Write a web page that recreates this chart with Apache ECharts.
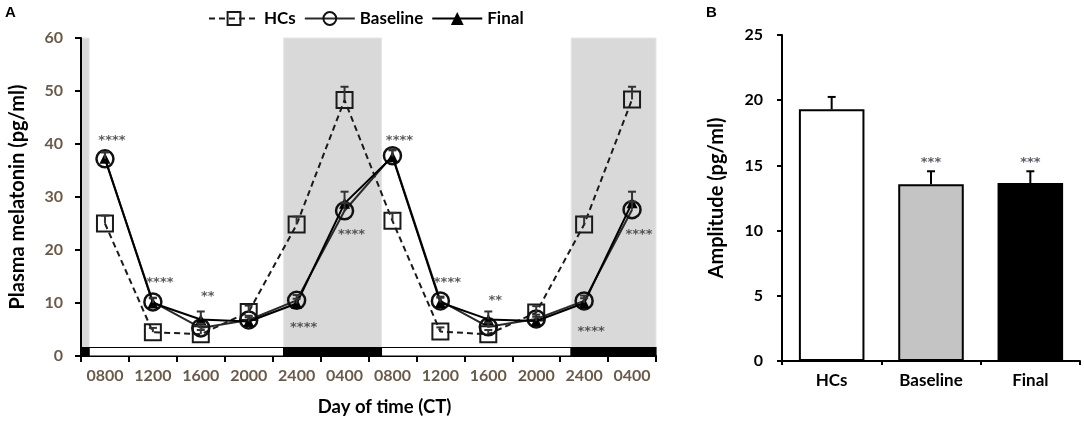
<!DOCTYPE html>
<html>
<head>
<meta charset="utf-8">
<script src="https://cdn.jsdelivr.net/npm/echarts@6/dist/echarts.min.js"></script>
<style>
html,body{margin:0;padding:0;background:#fff;}
#chart{width:1084px;height:422px;}
</style>
</head>
<body>
<div id="chart"></div>
<script>
// ---- Panel A data ----
const categories = ['0800','1200','1600','2000','2400','0400','0800','1200','1600','2000','2400','0400'];
const hcs        = [25.0, 4.5, 4.1, 8.3, 24.8, 48.3, 25.5, 4.6, 4.1, 8.2, 24.8, 48.4];
const hcsErr     = [1.5, 0.8, 0.8, 1.2, 1.5, 2.5, 1.5, 0.8, 0.8, 1.2, 1.5, 2.4];
const baseline   = [37.2, 10.2, 5.3, 6.8, 10.5, 27.4, 37.8, 10.4, 5.5, 7.0, 10.4, 27.6];
const baselineErr= [1.2, 0.8, 0.8, 0.8, 1.0, 1.5, 1.2, 0.8, 0.8, 0.8, 1.0, 1.5];
const finalV     = [37.3, 10.0, 6.9, 6.5, 9.9, 28.8, 37.6, 10.1, 6.9, 6.6, 10.0, 28.9];
const finalErr   = [1.2, 0.9, 1.5, 0.8, 0.9, 2.2, 1.2, 0.9, 1.5, 0.8, 0.9, 2.1];
const sigText    = ['****','****','**','','****','****','****','****','**','','****','****'];
const sigY       = [41.0, 14.3, 11.5, null, 5.8, 23.2, 41.0, 14.2, 10.8, null, 5.0, 23.2];
// dark (night) periods, in category-index units
const darkPeriods = [[0, 0.17], [4.23, 6.27], [10.23, 12]];
const lightDarkBar = [[0, 0.17, 1], [0.17, 4.23, 0], [4.23, 6.27, 1], [6.27, 10.23, 0], [10.23, 12, 1]];
const barTop = 1.6;
const yTicksA = [0, 60, 10];

// ---- Panel B data ----
const groups = ['HCs', 'Baseline', 'Final'];
const amp    = [19.3, 13.55, 13.65];
const ampErr = [0.95, 1.0, 0.9];
const ampSig = ['', '***', '***'];
const yTicksB = [0, 25, 5];

const FONT = 'Lato';
const STAR_FONT = '"DejaVu Sans"';
const tickColA = '#6a5a4a';

function errRender(color) {
  return function (params, api) {
    const x = api.value(0), v = api.value(1), e = api.value(2);
    const p0 = api.coord([x, v]);
    const p1 = api.coord([x, v + e]);
    return {
      type: 'group',
      children: [
        {type: 'line', shape: {x1: p0[0], y1: p0[1], x2: p1[0], y2: p1[1]}, style: {stroke: color, lineWidth: 2}},
        {type: 'line', shape: {x1: p1[0] - 4, y1: p1[1], x2: p1[0] + 4, y2: p1[1]}, style: {stroke: color, lineWidth: 2}}
      ]
    };
  };
}

const chart = echarts.init(document.getElementById('chart'), null, {renderer: 'canvas'});
const option = {
  backgroundColor: '#fff',
  animation: false,
  textStyle: {fontFamily: FONT},
  graphic: [
    {type: 'text', left: 5, top: 5, style: {text: 'A', font: 'bold 15px "Liberation Sans", Arial', fill: '#000'}},
    {type: 'text', left: 706, top: 5, style: {text: 'B', font: 'bold 15px "Liberation Sans", Arial', fill: '#000'}}
  ],
  legend: {
    left: 203, top: 5,
    itemWidth: 50, itemHeight: 16, itemGap: 8,
    textStyle: {fontFamily: FONT, fontWeight: 'bold', fontSize: 17, color: '#000'},
    data: ['HCs', 'Baseline', 'Final']
  },
  grid: [
    {left: 80, top: 38, right: 428, bottom: 62},
    {left: 782, top: 35, right: 4, bottom: 61}
  ],
  xAxis: [
    {
      type: 'category', gridIndex: 0, data: categories, boundaryGap: true,
      axisLine: {lineStyle: {color: '#000', width: 2}},
      axisTick: {show: true, length: 6, inside: false, lineStyle: {color: '#000', width: 2}},
      axisLabel: {color: tickColA, fontSize: 16, fontWeight: 'bold', fontFamily: FONT, margin: 12, interval: 0},
      name: 'Day of time (CT)', nameLocation: 'middle', nameGap: 42,
      nameTextStyle: {fontSize: 18.5, fontWeight: 'bold', color: '#000', fontFamily: FONT, padding: [0, 0, 0, 32]}
    },
    {type: 'value', gridIndex: 0, min: 0, max: 12, show: false},
    {
      type: 'category', gridIndex: 1, data: groups, boundaryGap: true,
      axisLine: {lineStyle: {color: '#000', width: 2}},
      axisTick: {show: true, length: 4, lineStyle: {color: '#000', width: 2}},
      axisLabel: {color: '#000', fontSize: 17, fontWeight: 'bold', fontFamily: FONT, margin: 11}
    }
  ],
  yAxis: [
    {
      type: 'value', gridIndex: 0, min: yTicksA[0], max: yTicksA[1], interval: yTicksA[2],
      axisLine: {show: true, lineStyle: {color: '#000', width: 2}},
      axisTick: {show: true, length: 6, lineStyle: {color: '#000', width: 2}},
      splitLine: {show: false},
      axisLabel: {color: tickColA, fontSize: 16, fontWeight: 'bold', fontFamily: FONT, margin: 18},
      name: 'Plasma melatonin (pg/ml)', nameLocation: 'middle', nameGap: 53,
      nameTextStyle: {fontSize: 20, fontWeight: 'bold', color: '#000', fontFamily: FONT}
    },
    {
      type: 'value', gridIndex: 1, min: yTicksB[0], max: yTicksB[1], interval: yTicksB[2],
      axisLine: {show: true, lineStyle: {color: '#000', width: 2}},
      axisTick: {show: true, length: 5, lineStyle: {color: '#000', width: 2}},
      splitLine: {show: false},
      axisLabel: {color: '#000', fontSize: 16, fontWeight: 'bold', fontFamily: FONT, margin: 19},
      name: 'Amplitude (pg/ml)', nameLocation: 'middle', nameGap: 55,
      nameTextStyle: {fontSize: 20, fontWeight: 'bold', color: '#000', fontFamily: FONT}
    }
  ],
  series: [
    // night shading
    {
      type: 'custom', xAxisIndex: 1, yAxisIndex: 0, z: 0, silent: true,
      data: darkPeriods,
      renderItem: function (params, api) {
        const p0 = api.coord([api.value(0), yTicksA[1]]);
        const p1 = api.coord([api.value(1), barTop]);
        return {type: 'rect', shape: {x: p0[0], y: p0[1], width: p1[0] - p0[0], height: p1[1] - p0[1]},
          style: {fill: '#d9d9d9', stroke: '#e6e6e6', lineWidth: 1}};
      }
    },
    // light/dark bar
    {
      type: 'custom', xAxisIndex: 1, yAxisIndex: 0, z: 1, silent: true,
      data: lightDarkBar,
      renderItem: function (params, api) {
        const p0 = api.coord([api.value(0), barTop]);
        const p1 = api.coord([api.value(1), 0]);
        return {type: 'rect', shape: {x: p0[0], y: p0[1], width: p1[0] - p0[0], height: p1[1] - p0[1]},
          style: {fill: api.value(2) ? '#000' : '#fff', stroke: '#000', lineWidth: 1.2}};
      }
    },
    {
      name: 'HCs', type: 'line', xAxisIndex: 0, yAxisIndex: 0, z: 3,
      data: hcs, symbol: 'rect', symbolSize: 16,
      itemStyle: {color: 'rgba(0,0,0,0)', borderColor: '#1a1a1a', borderWidth: 2},
      lineStyle: {color: '#1a1a1a', width: 2, type: [6, 4]}
    },
    {
      name: 'Baseline', type: 'line', xAxisIndex: 0, yAxisIndex: 0, z: 4,
      data: baseline, symbol: 'circle', symbolSize: 17,
      itemStyle: {color: 'rgba(0,0,0,0)', borderColor: '#111', borderWidth: 2.5},
      lineStyle: {color: '#2a2a2a', width: 2}
    },
    {
      name: 'Final', type: 'line', xAxisIndex: 0, yAxisIndex: 0, z: 5,
      data: finalV, symbol: 'triangle', symbolSize: 11,
      itemStyle: {color: '#000', borderColor: '#000', borderWidth: 0},
      lineStyle: {color: '#000', width: 2}
    },
    {type: 'custom', xAxisIndex: 0, yAxisIndex: 0, z: 6, silent: true,
      data: hcs.map((v, i) => [i, v, hcsErr[i]]), renderItem: errRender('#333')},
    {type: 'custom', xAxisIndex: 0, yAxisIndex: 0, z: 6, silent: true,
      data: baseline.map((v, i) => [i, v, baselineErr[i]]), renderItem: errRender('#333')},
    {type: 'custom', xAxisIndex: 0, yAxisIndex: 0, z: 6, silent: true,
      data: finalV.map((v, i) => [i, v, finalErr[i]]), renderItem: errRender('#333')},
    // significance marks A
    {
      type: 'scatter', xAxisIndex: 0, yAxisIndex: 0, z: 7, silent: true, symbolSize: 0,
      data: sigY.map((v, i) => [i, v]),
      label: {show: true, position: 'inside', offset: [7, 2], fontSize: 13, fontWeight: 'bold', color: '#333',
        fontFamily: STAR_FONT, formatter: p => sigText[p.dataIndex]}
    },
    // Panel B bars
    {
      type: 'bar', xAxisIndex: 2, yAxisIndex: 1, barWidth: '66%', z: 2,
      data: amp.map((v, i) => ({value: v, itemStyle: {color: ['#fff', '#c4c4c4', '#000'][i], borderColor: '#000', borderWidth: 2}}))
    },
    {type: 'custom', xAxisIndex: 2, yAxisIndex: 1, z: 3, silent: true,
      data: amp.map((v, i) => [i, v, ampErr[i]]), renderItem: errRender('#000')},
    {
      type: 'scatter', xAxisIndex: 2, yAxisIndex: 1, z: 4, silent: true, symbolSize: 0,
      data: amp.map((v, i) => [i, v + ampErr[i]]),
      label: {show: true, position: 'top', distance: 2, fontSize: 13, fontWeight: 'bold', color: '#334',
        fontFamily: STAR_FONT, formatter: p => ampSig[p.dataIndex]}
    }
  ]
};
chart.setOption(option);
</script>
</body>
</html>
